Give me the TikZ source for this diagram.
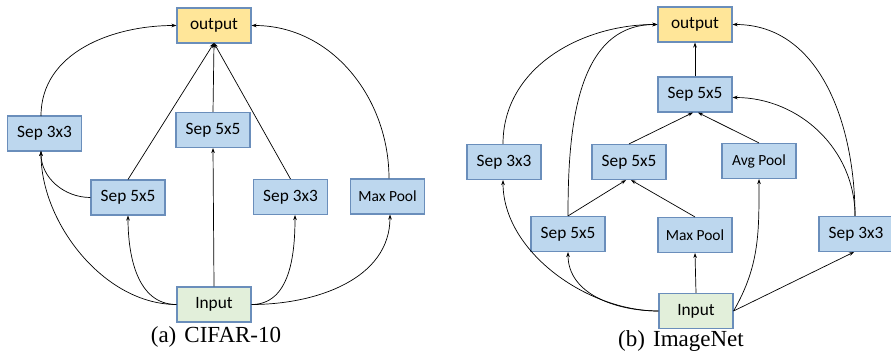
\documentclass[tikz,border=0pt]{standalone}
\usepackage{fontspec}
\setmainfont{Liberation Serif}
\newfontfamily\boxfont{Carlito}
\usetikzlibrary{arrows.meta}
\definecolor{bluefill}{HTML}{BDD7EE}
\definecolor{yellowfill}{HTML}{FFE699}
\definecolor{greenfill}{HTML}{E2EFDA}
\definecolor{boxborder}{HTML}{6A8EBB}
\tikzset{
  opbox/.style={draw=boxborder, line width=1.1pt, fill=bluefill, minimum width=74pt, minimum height=35pt, inner sep=0pt, font=\boxfont\fontsize{17.3}{20}\selectfont},
  poolbox/.style={opbox, font=\boxfont\fontsize{15.5}{18}\selectfont},
  outbox/.style={opbox, fill=yellowfill},
  inbox/.style={opbox, fill=greenfill},
  conn/.style={-{Stealth[length=5pt,width=3.6pt]}, line width=0.7pt, black},
  captext/.style={font=\fontsize{23}{26}\selectfont, inner sep=0pt, anchor=base}
}
\begin{document}
\begin{tikzpicture}[x=1pt,y=-1pt]
\useasboundingbox (0,0) rectangle (891,352);
% ---------- (a) CIFAR-10 ----------
\node[outbox] (aout) at (214,25.5) {output};
\node[opbox] (as3l) at (44.5,133.5) {Sep 3x3};
\node[opbox] (as5c) at (213,130) {Sep 5x5};
\node[opbox] (as5l) at (128,197.5) {Sep 5x5};
\node[opbox] (as3r) at (290.5,197) {Sep 3x3};
\node[poolbox] (amp) at (387.5,196.5) {Max Pool};
\node[inbox] (ain) at (214,304.5) {Input};
\node[captext] (acap) at (216,343) {(a)\hspace{0.35em}CIFAR-10};

\coordinate (aoutS) at (214,43);
\coordinate (as3lS) at (41,151);
\coordinate (as3lN) at (41,116);
\draw[conn] (ain.west) to[out=180,in=270,looseness=0.9] (as3lS);
\draw[conn] (as5l.west) to[out=180,in=270] (as3lS);
\draw[conn] (as3lN) to[out=90,in=180] (aout.west);
\draw[conn] (ain.west) to[out=180,in=270] (as5l.south);
\draw[conn] (as5l.north) -- (aoutS);
\draw[conn] (ain.north) -- (as5c.south);
\draw[conn] (as5c.north) -- (aoutS);
\draw[conn] (ain.east) to[out=0,in=270] ([xshift=4.5pt]as3r.south);
\draw[conn] (as3r.north) -- (aoutS);
\draw[conn] (ain.east) to[out=0,in=270] ([xshift=2.5pt]amp.south);
\draw[conn] ([xshift=1.5pt]amp.north) to[out=90,in=0] (aout.east);

% ---------- (b) ImageNet ----------
\node[outbox] (bout) at (695,24.5) {output};
\node[opbox] (bs5t) at (695,94.5) {Sep 5x5};
\node[opbox] (bs3l) at (504,162) {Sep 3x3};
\node[opbox] (bs5m) at (629,162) {Sep 5x5};
\node[poolbox] (bap) at (759,161) {Avg Pool};
\node[opbox] (bs5lo) at (568,234) {Sep 5x5};
\node[poolbox] (bmp) at (695,235) {Max Pool};
\node[opbox] (bs3r) at (856,234) {Sep 3x3};
\node[inbox] (bin) at (696,311) {Input};
\node[captext] (bcap) at (681,347) {(b)\hspace{0.35em}ImageNet};

\draw[conn] (bin.west) to[out=180,in=270,looseness=0.9] ([xshift=-1pt]bs3l.south);
\draw[conn] (bin.west) to[out=180,in=270] (bs5lo.south);
\draw[conn] ([xshift=-1pt]bs3l.north) to[out=90,in=180] (bout.west);
\draw[conn] (bs5lo.north) to[out=90,in=180] (bout.west);
\draw[conn] (bs5lo.north) -- ([xshift=-3pt]bs5m.south);
\draw[conn] (bmp.north) -- ([xshift=2pt]bs5m.south);
\draw[conn] (bin.north) -- (bmp.south);
\draw[conn] (bin.east) to[out=60,in=270] (bap.south);
\draw[conn] (bin.east) -- ([xshift=-2pt]bs3r.south);
\draw[conn] (bs5m.north) -- ([xshift=-2pt]bs5t.south);
\draw[conn] (bap.north) -- ([xshift=3pt]bs5t.south);
\draw[conn] (bs5t.north) -- (bout.south);
\draw[conn] ([xshift=-1pt]bs3r.north) to[out=90,in=0] ([yshift=-3pt]bs5t.east);
\draw[conn] ([xshift=-1pt]bs3r.north) to[out=90,in=0] (bout.east);
\end{tikzpicture}
\end{document}
